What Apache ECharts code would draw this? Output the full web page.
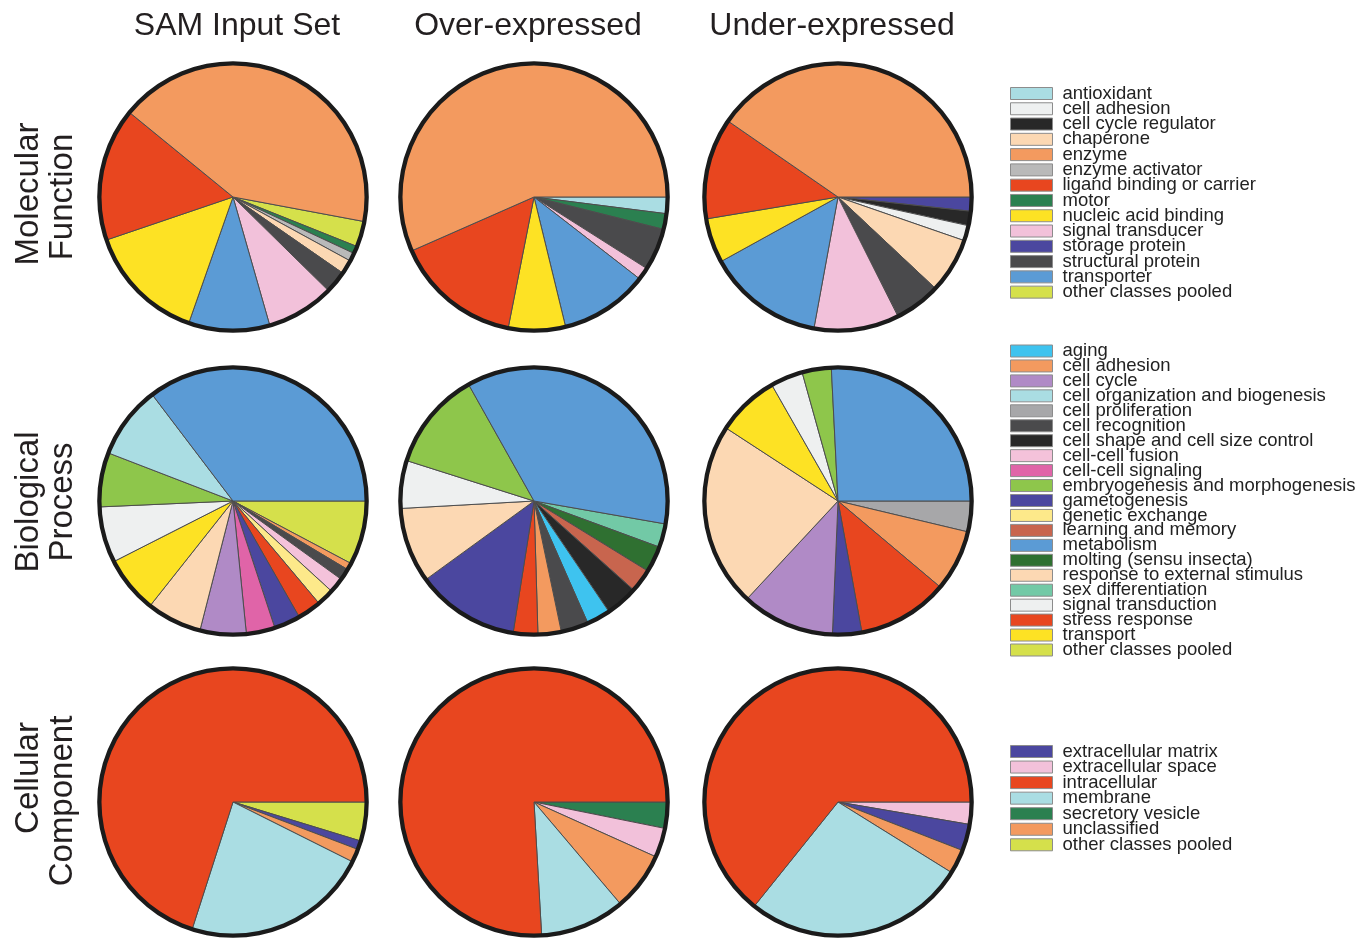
<!DOCTYPE html>
<html>
<head>
<meta charset="utf-8">
<title>GO classes pie charts</title>
<script src="https://cdn.jsdelivr.net/npm/echarts@6.0.0/dist/echarts.min.js"></script>
<style>
  html, body { margin: 0; padding: 0; background: #fff; }
  #main { width: 1371px; height: 941px; }
</style>
</head>
<body>
<div id="main"></div>
<script>
// column / row headings
const colTitles = ['SAM Input Set', 'Over-expressed', 'Under-expressed'];
const rowTitles = [['Molecular', 'Function'], ['Biological', 'Process'], ['Cellular', 'Component']];

// legend categories (legend order)
const mfCategories = ['antioxidant', 'cell adhesion', 'cell cycle regulator', 'chaperone', 'enzyme',
  'enzyme activator', 'ligand binding or carrier', 'motor', 'nucleic acid binding', 'signal transducer',
  'storage protein', 'structural protein', 'transporter', 'other classes pooled'];
const bpCategories = ['aging', 'cell adhesion', 'cell cycle', 'cell organization and biogenesis',
  'cell proliferation', 'cell recognition', 'cell shape and cell size control', 'cell-cell fusion',
  'cell-cell signaling', 'embryogenesis and morphogenesis', 'gametogenesis', 'genetic exchange',
  'learning and memory', 'metabolism', 'molting (sensu insecta)', 'response to external stimulus',
  'sex differentiation', 'signal transduction', 'stress response', 'transport', 'other classes pooled'];
const ccCategories = ['extracellular matrix', 'extracellular space', 'intracellular', 'membrane',
  'secretory vesicle', 'unclassified', 'other classes pooled'];

// slices, clockwise order (percent of genes)
const mfSamNames = ['other classes pooled', 'motor', 'enzyme activator', 'chaperone', 'structural protein',
  'signal transducer', 'transporter', 'nucleic acid binding', 'ligand binding or carrier', 'enzyme'];
const mfSamValues = [3.1, 0.9, 1.0, 1.7, 2.7, 8.2, 9.8, 14.4, 16.1, 42.0];
const mfOverNames = ['antioxidant', 'motor', 'structural protein', 'signal transducer', 'transporter',
  'nucleic acid binding', 'ligand binding or carrier', 'enzyme'];
const mfOverValues = [2.0, 1.9, 5.1, 1.5, 10.7, 6.9, 15.3, 56.6];
const mfUnderNames = ['storage protein', 'cell cycle regulator', 'cell adhesion', 'chaperone', 'structural protein',
  'signal transducer', 'transporter', 'nucleic acid binding', 'ligand binding or carrier', 'enzyme'];
const mfUnderValues = [1.7, 1.75, 1.85, 6.7, 5.6, 10.3, 14.1, 5.4, 12.25, 40.4];

const bpSamNames = ['other classes pooled', 'cell adhesion', 'cell recognition', 'cell-cell fusion',
  'genetic exchange', 'stress response', 'gametogenesis', 'cell-cell signaling', 'cell cycle',
  'response to external stimulus', 'transport', 'signal transduction', 'embryogenesis and morphogenesis',
  'cell organization and biogenesis', 'metabolism'];
const bpSamValues = [7.75, 0.83, 1.39, 1.83, 2.08, 2.86, 3.19, 3.47, 5.58, 6.67, 6.86, 6.78, 6.56, 8.81, 35.33];
const bpOverNames = ['sex differentiation', 'molting (sensu insecta)', 'learning and memory',
  'cell shape and cell size control', 'aging', 'cell recognition', 'cell adhesion', 'stress response',
  'gametogenesis', 'response to external stimulus', 'signal transduction', 'embryogenesis and morphogenesis',
  'metabolism'];
const bpOverValues = [2.86, 3.17, 2.83, 3.92, 2.86, 3.33, 2.81, 2.97, 12.5, 9.11, 5.78, 11.97, 35.89];
const bpUnderNames = ['cell proliferation', 'cell adhesion', 'stress response', 'gametogenesis', 'cell cycle',
  'response to external stimulus', 'transport', 'signal transduction', 'embryogenesis and morphogenesis',
  'metabolism'];
const bpUnderValues = [3.72, 7.42, 11.0, 3.53, 11.25, 22.28, 7.56, 3.92, 3.53, 25.8];

const ccSamNames = ['other classes pooled', 'extracellular matrix', 'unclassified', 'membrane', 'intracellular'];
const ccSamValues = [4.72, 1.06, 1.61, 22.56, 70.06];
const ccOverNames = ['secretory vesicle', 'extracellular space', 'unclassified', 'membrane', 'intracellular'];
const ccOverValues = [3.17, 3.56, 7.08, 10.28, 75.92];
const ccUnderNames = ['extracellular space', 'extracellular matrix', 'unclassified', 'membrane', 'intracellular'];
const ccUnderValues = [2.69, 3.22, 2.94, 26.92, 64.22];

// colours
const mfColors = {
  'antioxidant': '#aadde3', 'cell adhesion': '#eef0f0', 'cell cycle regulator': '#282828',
  'chaperone': '#fcd8b3', 'enzyme': '#f39a5f', 'enzyme activator': '#b9b9b9',
  'ligand binding or carrier': '#e8461f', 'motor': '#2b8050', 'nucleic acid binding': '#fde224',
  'signal transducer': '#f2c1da', 'storage protein': '#4b479f', 'structural protein': '#4a4a4c',
  'transporter': '#5b9bd5', 'other classes pooled': '#d5e04b'
};
const bpColors = {
  'aging': '#3ec3ef', 'cell adhesion': '#f39a5f', 'cell cycle': '#b08ac6',
  'cell organization and biogenesis': '#aadde3', 'cell proliferation': '#a7a7a9', 'cell recognition': '#4a4a4c',
  'cell shape and cell size control': '#282828', 'cell-cell fusion': '#f4c2da', 'cell-cell signaling': '#e064a8',
  'embryogenesis and morphogenesis': '#8ec64b', 'gametogenesis': '#4b479f', 'genetic exchange': '#fde98a',
  'learning and memory': '#c8654e', 'metabolism': '#5b9bd5', 'molting (sensu insecta)': '#2f7031',
  'response to external stimulus': '#fcd8b3', 'sex differentiation': '#72c9a6', 'signal transduction': '#eef0f0',
  'stress response': '#e8461f', 'transport': '#fde224', 'other classes pooled': '#d5e04b'
};
const ccColors = {
  'extracellular matrix': '#4b479f', 'extracellular space': '#f2c1da', 'intracellular': '#e8461f',
  'membrane': '#aadde3', 'secretory vesicle': '#2b8050', 'unclassified': '#f39a5f',
  'other classes pooled': '#d5e04b'
};

const FONT = '"Liberation Sans", Arial, Helvetica, sans-serif';
const colX = [233, 534, 838];
const rowY = [197, 501, 802];
const R = 133;
const LEGEND_ITEM_H = 19; // height echarts gives one legend row at this font size

function makePie(cx, cy, names, values, colors, start) {
  return {
    type: 'pie',
    center: [cx, cy],
    radius: [0, R],
    startAngle: start,
    clockwise: true,
    label: { show: false },
    labelLine: { show: false },
    emphasis: { scale: false },
    itemStyle: { borderColor: '#4d4d4d', borderWidth: 1 },
    data: names.map((n, i) => ({ name: n, value: values[i], itemStyle: { color: colors[n] } }))
  };
}

// thick black rim round each pie
function makeRing(cx, cy) {
  return {
    type: 'pie',
    center: [cx, cy],
    radius: [R - 1.5, R + 2.8],
    silent: true,
    label: { show: false },
    labelLine: { show: false },
    itemStyle: { borderWidth: 0 },
    data: [{ value: 1, name: '', itemStyle: { color: '#1b1b1b' } }]
  };
}

function makeLegend(cats, colors, top, step) {
  return {
    orient: 'vertical',
    left: 1010,
    top: top,
    padding: 0,
    itemGap: step - LEGEND_ITEM_H,
    itemWidth: 42,
    itemHeight: 12,
    icon: 'rect',
    selectedMode: false,
    itemStyle: { borderColor: '#8c8c8c', borderWidth: 1 },
    textStyle: { fontFamily: FONT, fontSize: 18.5, color: '#222', padding: [0, 0, 0, 5] },
    data: cats.map(n => ({ name: n, itemStyle: { color: colors[n] } }))
  };
}

const pies = [
  [mfSamNames, mfSamValues, mfColors, -10.6, 0, 0],
  [mfOverNames, mfOverValues, mfColors, 0, 1, 0],
  [mfUnderNames, mfUnderValues, mfColors, 0, 2, 0],
  [bpSamNames, bpSamValues, bpColors, 0, 0, 1],
  [bpOverNames, bpOverValues, bpColors, -9.9, 1, 1],
  [bpUnderNames, bpUnderValues, bpColors, 0, 2, 1],
  [ccSamNames, ccSamValues, ccColors, 0, 0, 2],
  [ccOverNames, ccOverValues, ccColors, 0, 1, 2],
  [ccUnderNames, ccUnderValues, ccColors, 0, 2, 2]
];

const series = [];
pies.forEach(p => {
  series.push(makePie(colX[p[4]], rowY[p[5]], p[0], p[1], p[2], p[3]));
  series.push(makeRing(colX[p[4]], rowY[p[5]]));
});

const graphics = [];
const titleX = [237, 528, 832];
colTitles.forEach((t, i) => {
  graphics.push({
    type: 'text', x: titleX[i], y: 26,
    style: { text: t, fontFamily: FONT, fontSize: 32, fill: '#231f20', align: 'center', verticalAlign: 'middle' }
  });
});
const rowLabelY = [[194, 197], [502, 502], [778, 801]];
rowTitles.forEach((lines, r) => {
  lines.forEach((t, j) => {
    graphics.push({
      type: 'text', x: j === 0 ? 29 : 63, y: rowLabelY[r][j], rotation: Math.PI / 2,
      style: { text: t, fontFamily: FONT, fontSize: 33, fill: '#231f20', align: 'center', verticalAlign: 'middle' }
    });
  });
});

const chart = echarts.init(document.getElementById('main'), null, { renderer: 'canvas' });
chart.setOption({
  backgroundColor: '#ffffff',
  animation: false,
  legend: [
    makeLegend(mfCategories, mfColors, 84, 15.28),
    makeLegend(bpCategories, bpColors, 341.5, 14.95),
    makeLegend(ccCategories, ccColors, 742, 15.55)
  ],
  graphic: graphics,
  series: series
});
</script>
</body>
</html>
